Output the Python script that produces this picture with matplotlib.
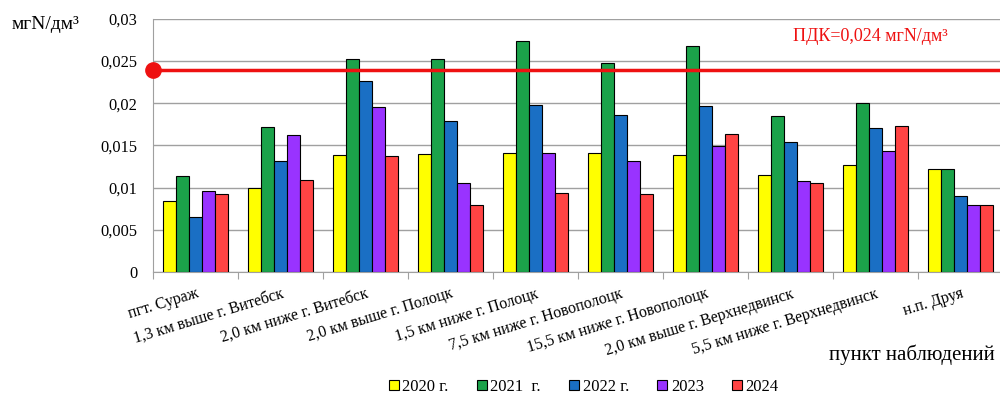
import matplotlib
matplotlib.use("Agg")
import matplotlib.pyplot as plt
import numpy as np
from matplotlib.lines import Line2D

plt.rcParams['font.family'] = ['Liberation Serif', 'DejaVu Serif']

categories = ["пгт. Сураж", "1,3 км выше г. Витебск", "2,0 км ниже г. Витебск",
              "2,0 км выше г. Полоцк", "1,5 км ниже г. Полоцк", "7,5 км ниже г. Новополоцк",
              "15,5 км ниже г. Новополоцк", "2,0 км выше г. Верхнедвинск",
              "5,5 км ниже г. Верхнедвинск", "н.п. Друя"]
series_names = ["2020 г.", "2021  г.", "2022 г.", "2023", "2024"]
v2020 = [0.0084, 0.0099, 0.0139, 0.0140, 0.0141, 0.0141, 0.0139, 0.0115, 0.0127, 0.0122]
v2021 = [0.0114, 0.0172, 0.0253, 0.0253, 0.0274, 0.0248, 0.0268, 0.0185, 0.0200, 0.0122]
v2022 = [0.0065, 0.0132, 0.0226, 0.0179, 0.0198, 0.0186, 0.0197, 0.0154, 0.0171, 0.0090]
v2023 = [0.0096, 0.0162, 0.0196, 0.0106, 0.0141, 0.0132, 0.0149, 0.0108, 0.0143, 0.0080]
v2024 = [0.0093, 0.0109, 0.0137, 0.0080, 0.0094, 0.0093, 0.0164, 0.0106, 0.0173, 0.0080]
pdk = 0.024
y_ticks = [0, 0.005, 0.01, 0.015, 0.02, 0.025, 0.03]
y_tick_labels = ["0", "0,005", "0,01", "0,015", "0,02", "0,025", "0,03"]

colors = ["#FFFF00", "#1BA24A", "#1A6FC4", "#9933FF", "#FF4444"]
series = [v2020, v2021, v2022, v2023, v2024]

fig = plt.figure(figsize=(10, 4.01), dpi=100)
ax = fig.add_axes([0.153, 0.3217, 0.85, 0.631])

x = np.arange(len(categories))
w = 0.155
for i, (vals, c) in enumerate(zip(series, colors)):
    ax.bar(x + (i - 2) * w, vals, width=w, color=c, edgecolor='black', linewidth=0.8, zorder=3)

ax.set_xlim(-0.5, len(categories) - 0.5)
ax.set_ylim(0, 0.03)
ax.set_yticks(y_ticks)
ax.set_yticklabels(y_tick_labels, fontsize=11.8)
ax.tick_params(axis='y', length=0, pad=11)
ax.yaxis.grid(True, color='#A0A0A0', linewidth=1.0, zorder=0)
ax.set_axisbelow(True)

ax.set_xticks(np.arange(len(categories) + 1) - 0.5)
ax.set_xticklabels([])
ax.tick_params(axis='x', which='major', length=5, color='#A0A0A0', direction='out')
ax.set_xticks(x, minor=True)
ax.set_xticklabels(categories, minor=True, rotation=17, ha='right', rotation_mode='anchor', fontsize=11.5)
ax.tick_params(axis='x', which='minor', length=0, pad=10)

for s in ['top', 'right']:
    ax.spines[s].set_visible(False)
ax.spines['left'].set_color('#A0A0A0')
ax.spines['bottom'].set_color('#A0A0A0')

ax.axhline(pdk, color='#EE1111', linewidth=2.5, zorder=4, clip_on=False)
ax.plot([-0.5], [pdk], marker='o', markersize=11, color='#EE1111', zorder=5, clip_on=False)

fig.text(0.046, 0.940, "мгN/дм³", fontsize=14, ha='center', va='center')
fig.text(0.870, 0.910, "ПДК=0,024 мгN/дм³", fontsize=13, color='#EE1111', ha='center', va='center')
fig.text(0.995, 0.115, "пункт наблюдений", fontsize=15, ha='right', va='center')

handles = [Line2D([], [], marker='s', linestyle='none', markersize=7, markerfacecolor=c,
                  markeredgecolor='black', markeredgewidth=0.8) for c in colors]
fig.legend(handles, series_names, loc='center', bbox_to_anchor=(0.583, 0.035), ncol=5,
           frameon=False, fontsize=12, handlelength=0.8, handletextpad=0.1, columnspacing=1.6)

fig.savefig("out.png", dpi=100)
